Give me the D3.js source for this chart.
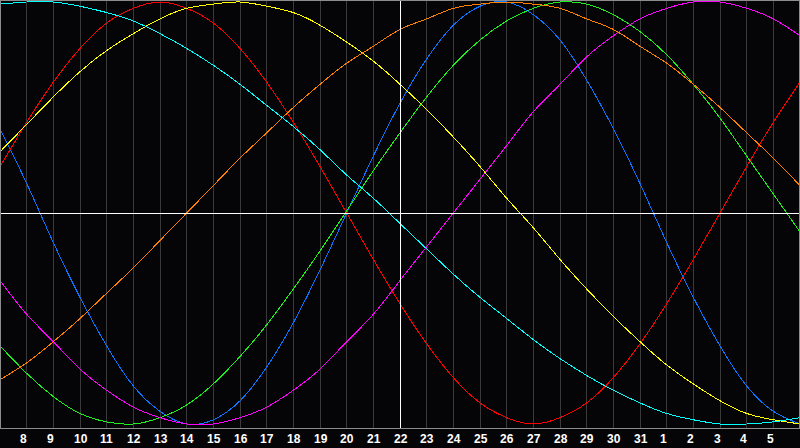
<!DOCTYPE html>
<html>
<head>
<meta charset="utf-8">
<script src="https://cdn.jsdelivr.net/npm/d3@7"></script>
<style>
  html, body { margin: 0; padding: 0; background: #050508; }
  #chart { width: 800px; height: 448px; }
</style>
</head>
<body>
<div id="chart"></div>
<script>
// days along the bottom (first and last sit on the frame, no label)
const days = [7, 8, 9, 10, 11, 12, 13, 14, 15, 16, 17, 18, 19, 20, 21, 22, 23, 24, 25, 26, 27, 28, 29, 30, 31, 1, 2, 3, 4, 5, 6];
const today = 22;

// cycle values in percent, one per day
const physical =     [40, 14, -14, -40, -63, -82, -94, -100, -98, -89, -73, -52, -27, 0, 27, 52, 73, 89, 98, 100, 94, 82, 63, 40, 14, -14, -40, -63, -82, -94, -100];
const emotional =    [22, 43, 62, 78, 90, 97, 100, 97, 90, 78, 62, 43, 22, 0, -22, -43, -62, -78, -90, -97, -100, -97, -90, -78, -62, -43, -22, 0, 22, 43, 62];
const intellectual = [-63, -76, -87, -95, -99, -100, -97, -91, -81, -68, -53, -36, -18, 1, 20, 38, 55, 70, 82, 91, 97, 100, 99, 94, 86, 75, 61, 45, 27, 9, -9];
const intuitive =    [-32, -48, -61, -74, -84, -92, -97, -100, -100, -97, -92, -84, -74, -61, -48, -32, -16, 0, 16, 32, 48, 61, 74, 84, 92, 97, 100, 100, 97, 92, 84];
const aesthetic =    [29, 42, 55, 67, 77, 85, 92, 97, 99, 100, 98, 95, 89, 81, 72, 61, 49, 36, 22, 7, -7, -22, -36, -49, -61, -72, -81, -89, -95, -98, -100];
const awareness =    [-79, -71, -61, -50, -38, -26, -13, 0, 13, 26, 38, 50, 61, 71, 79, 87, 92, 97, 99, 100, 99, 97, 92, 87, 79, 71, 61, 50, 38, 26, 13];
const spiritual =    [99, 100, 100, 98, 95, 91, 85, 78, 70, 61, 51, 41, 30, 18, 7, -5, -17, -29, -40, -50, -60, -69, -77, -84, -90, -95, -98, -100, -100, -99, -97];

const seriesNames = ["Physical", "Emotional", "Intellectual", "Intuitive", "Aesthetic", "Awareness", "Spiritual"];
const seriesColors = ["#0a74ff", "#ff0000", "#1ef01e", "#ff00ff", "#ffff00", "#ff8000", "#00ffff"];
const seriesValues = [physical, emotional, intellectual, intuitive, aesthetic, awareness, spiritual];

function drawChart() {
  const width = 800;
  const height = 448;
  const plotBottom = 428;

  const x = d3.scaleLinear().domain([0, days.length - 1]).range([0, width]);
  const y = d3.scaleLinear().domain([-100, 100]).range([424, 2]);

  const svg = d3.create("svg")
      .attr("viewBox", [0, 0, width, height])
      .attr("width", width)
      .attr("height", height)
      .style("display", "block")
      .style("background", "#050508");

  // day grid
  const grid = svg.append("g").attr("shape-rendering", "crispEdges");
  grid.selectAll("line")
    .data(days.map((d, i) => i).filter(i => i > 0 && i < days.length - 1 && days[i] !== today))
    .join("line")
      .attr("x1", i => Math.floor(x(i)) + 0.5)
      .attr("x2", i => Math.floor(x(i)) + 0.5)
      .attr("y1", 0)
      .attr("y2", plotBottom)
      .attr("stroke", "#3a3a3a");

  // curves
  const line = d3.line()
      .x((d, i) => x(i))
      .y(d => y(d))
      .curve(d3.curveNatural);

  svg.append("g")
    .selectAll("path")
    .data(seriesValues)
    .join("path")
      .attr("d", line)
      .attr("fill", "none")
      .attr("stroke", (d, i) => seriesColors[i])
      .attr("stroke-width", 1)
      .attr("shape-rendering", "crispEdges")
    .append("title")
      .text((d, i) => seriesNames[i]);

  // today marker and zero line
  const todayIndex = days.indexOf(today);
  const marks = svg.append("g").attr("shape-rendering", "crispEdges").attr("stroke", "#ffffff");
  marks.append("line")
      .attr("x1", Math.floor(x(todayIndex)) + 0.5)
      .attr("x2", Math.floor(x(todayIndex)) + 0.5)
      .attr("y1", 0)
      .attr("y2", plotBottom);
  marks.append("line")
      .attr("x1", 0)
      .attr("x2", width)
      .attr("y1", Math.round(y(0)) + 0.5)
      .attr("y2", Math.round(y(0)) + 0.5);

  // frame
  svg.append("rect")
      .attr("x", 0.5)
      .attr("y", 0.5)
      .attr("width", width - 1)
      .attr("height", plotBottom - 0.5)
      .attr("fill", "none")
      .attr("stroke", "#8c8c8c")
      .attr("shape-rendering", "crispEdges");

  // day labels
  svg.append("g")
    .selectAll("text")
    .data(days.map((d, i) => i).filter(i => i > 0 && i < days.length - 1))
    .join("text")
      .attr("x", i => Math.floor(x(i)) - 6)
      .attr("y", 443)
      .attr("fill", "#ffffff")
      .style("font", "bold 12px 'Liberation Sans', Arial, sans-serif")
      .text(i => days[i]);

  d3.select("#chart").node().appendChild(svg.node());
}

document.addEventListener("DOMContentLoaded", () => { drawChart(); }, false);
</script>
</body>
</html>
